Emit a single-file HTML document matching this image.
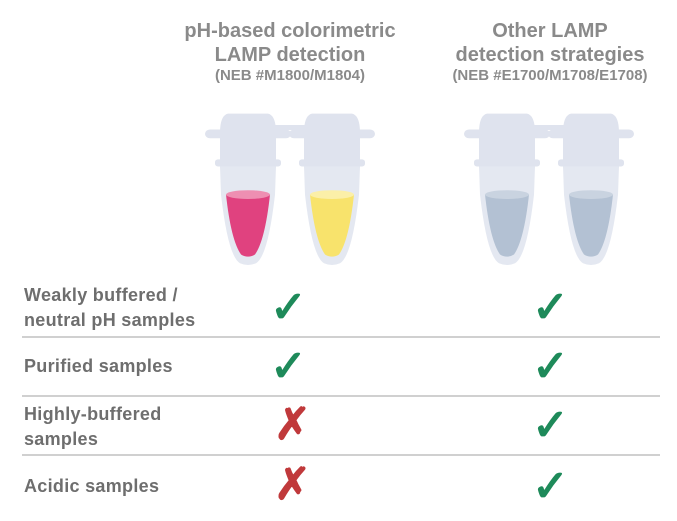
<html><body style="margin:0;background:#fff;width:677px;height:521px;overflow:hidden;font-family:'Liberation Sans',sans-serif">
<svg width="677" height="521" style="position:absolute;left:0;top:0">
<defs>
<g id="tube">
<path d="M-28,0 Q-28,-20 -20,-22 L20,-22 Q28,-20 28,0 Z" fill="#dfe3ee"/>
<rect x="-43" y="-4" width="86" height="10" rx="5" fill="#dfe3ee"/>
<rect x="-28" y="0" width="56" height="40" fill="#dfe3ee"/>
<rect x="-33" y="30" width="66" height="8" rx="3" fill="#dfe3ee"/>
<path d="M-28,38 L28,38 L27,70 Q20,140 8,148 Q0,152 -8,148 Q-20,140 -27,70 Z" fill="#e4e8f1"/>
</g>
</defs>
<rect x="270" y="125" width="40" height="5" fill="#dfe3ee"/>
<rect x="530" y="125" width="40" height="5" fill="#dfe3ee"/>
<g transform="translate(248,133) scale(1,0.88)"><use href="#tube"/><path d="M-22,70 L22,70 Q17,122 7,138 Q0,143 -7,138 Q-17,122 -22,70Z" fill="#e0427f"/><ellipse cx="0" cy="70" rx="22" ry="5" fill="#ee8fb2"/></g>
<g transform="translate(332,133) scale(1,0.88)"><use href="#tube"/><path d="M-22,70 L22,70 Q17,122 7,138 Q0,143 -7,138 Q-17,122 -22,70Z" fill="#f8e36c"/><ellipse cx="0" cy="70" rx="22" ry="5" fill="#fbefa8"/></g>
<g transform="translate(507,133) scale(1,0.88)"><use href="#tube"/><path d="M-22,70 L22,70 Q17,122 7,138 Q0,143 -7,138 Q-17,122 -22,70Z" fill="#b3c1d3"/><ellipse cx="0" cy="70" rx="22" ry="5" fill="#c9d3e0"/></g>
<g transform="translate(591,133) scale(1,0.88)"><use href="#tube"/><path d="M-22,70 L22,70 Q17,122 7,138 Q0,143 -7,138 Q-17,122 -22,70Z" fill="#b3c1d3"/><ellipse cx="0" cy="70" rx="22" ry="5" fill="#c9d3e0"/></g>
<g fill="#d0d0d0"><rect x="22" y="336" width="638" height="2"/><rect x="22" y="395" width="638" height="2"/><rect x="22" y="454" width="638" height="2"/></g>
</svg>
<div style="position:absolute;left:140px;width:300px;top:19px;text-align:center;color:#8a8a8a;font-weight:bold;font-size:20px;line-height:24px">pH-based colorimetric<br>LAMP detection<div style="font-size:15px;line-height:18px">(NEB #M1800/M1804)</div></div>
<div style="position:absolute;left:400px;width:300px;top:19px;text-align:center;color:#8a8a8a;font-weight:bold;font-size:20px;line-height:24px">Other LAMP<br>detection strategies<div style="font-size:15px;line-height:18px">(NEB #E1700/M1708/E1708)</div></div>
<div style="position:absolute;left:24px;color:#6e6e6e;font-weight:bold;font-size:18px;line-height:25px;letter-spacing:0.3px">
<div style="position:absolute;top:283px;white-space:nowrap">Weakly buffered /<br>neutral pH samples</div>
<div style="position:absolute;top:354px;white-space:nowrap">Purified samples</div>
<div style="position:absolute;top:402px;white-space:nowrap">Highly-buffered<br>samples</div>
<div style="position:absolute;top:474px;white-space:nowrap">Acidic samples</div>
</div>
<div style="position:absolute;font-size:44px;line-height:44px;color:#1e8a5a;font-weight:bold">
<div style="position:absolute;left:270px;top:286px">✓</div>
<div style="position:absolute;left:270px;top:345px">✓</div>
<div style="position:absolute;left:532px;top:286px">✓</div>
<div style="position:absolute;left:532px;top:345px">✓</div>
<div style="position:absolute;left:532px;top:404px">✓</div>
<div style="position:absolute;left:532px;top:465px">✓</div>
<div style="position:absolute;left:274px;top:403px;color:#c0393b">✗</div>
<div style="position:absolute;left:274px;top:463px;color:#c0393b">✗</div>
</div>
</body></html>
